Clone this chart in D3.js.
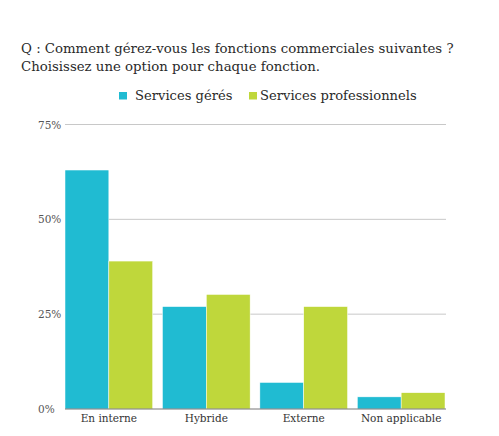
<!DOCTYPE html>
<html>
<head>
<meta charset="utf-8">
<script src="https://cdn.jsdelivr.net/npm/d3@7"></script>
<style>
  body { margin: 0; background: #fff; }
  svg { display: block; }
</style>
</head>
<body>
<svg id="chart"></svg>
<script>
const width = 499;
const height = 436;

const categories = ["En interne", "Hybride", "Externe", "Non applicable"];
const seriesNames = ["Services gérés", "Services professionnels"];
const managed = [63, 27, 7, 3.2];
const professional = [39, 30.2, 27, 4.3];
const yTicks = [0, 25, 50, 75];
const colors = ["#20bbd2", "#bfd73b"];

const titleLines = [
  "Q : Comment gérez-vous les fonctions commerciales suivantes ?",
  "Choisissez une option pour chaque fonction."
];

const margin = {l: 65, r: 54, t: 124.5, b: 27};
const font = "DejaVu Serif";

main();

function main() {
  const svg = d3.select("#chart").attr("width", width).attr("height", height);

  const x = d3.scaleBand().domain(categories)
    .range([margin.l, width - margin.r]).paddingInner(0.1).paddingOuter(0);
  const xs = d3.scaleBand().domain(seriesNames).range([0, x.bandwidth()]);
  const y = d3.scaleLinear().domain([0, 75]).range([height - margin.b, margin.t]);

  // title
  svg.append("g").selectAll("text").data(titleLines).join("text")
    .attr("x", 21)
    .attr("y", (d, i) => 53 + i * 18)
    .attr("font-family", font)
    .attr("font-size", 13.3)
    .attr("fill", "#2a2a2a")
    .text(d => d);

  // legend
  const legendX = [119, 249];
  const textGap = [16, 11];
  const lg = svg.append("g").selectAll("g").data(seriesNames).join("g")
    .attr("transform", (d, i) => `translate(${legendX[i]},0)`);
  lg.append("rect").attr("x", 0).attr("y", 92).attr("width", 8).attr("height", 7.5)
    .attr("fill", (d, i) => colors[i]);
  lg.append("text").attr("x", (d, i) => textGap[i]).attr("y", 100)
    .attr("font-family", font).attr("font-size", 13.1).attr("fill", "#2a2a2a")
    .text(d => d);

  // grid
  svg.append("g").selectAll("line").data(yTicks.filter(t => t > 0)).join("line")
    .attr("x1", margin.l).attr("x2", width - margin.r + 1)
    .attr("y1", d => y(d)).attr("y2", d => y(d))
    .attr("stroke", "#c8c8c8").attr("stroke-width", 1);

  svg.append("g").selectAll("text").data(yTicks).join("text")
    .attr("x", 38).attr("y", d => y(d) + 4)
    .attr("font-family", font).attr("font-size", 10.5).attr("fill", "#555")
    .text(d => d + "%");

  // bars
  const rows = categories.map((c, i) => ({c, vals: [managed[i], professional[i]]}));
  const groups = svg.append("g").selectAll("g").data(rows).join("g")
    .attr("transform", d => `translate(${x(d.c)},0)`);
  groups.selectAll("rect")
    .data(d => d.vals.map((v, i) => ({v, s: seriesNames[i], i})))
    .join("rect")
    .attr("x", d => xs(d.s))
    .attr("width", xs.bandwidth())
    .attr("y", d => y(d.v))
    .attr("height", d => y(0) - y(d.v))
    .attr("fill", d => colors[d.i])
    .attr("stroke", "#fff").attr("stroke-width", 0.5);

  // baseline
  svg.append("line")
    .attr("x1", margin.l).attr("x2", width - margin.r + 1)
    .attr("y1", y(0)).attr("y2", y(0))
    .attr("stroke", "#777").attr("stroke-width", 1);

  svg.append("g").selectAll("text").data(categories).join("text")
    .attr("x", d => x(d) + x.bandwidth() / 2)
    .attr("y", height - 14)
    .attr("text-anchor", "middle")
    .attr("font-family", font).attr("font-size", 10.5).attr("fill", "#333")
    .text(d => d);
}
</script>
</body>
</html>
